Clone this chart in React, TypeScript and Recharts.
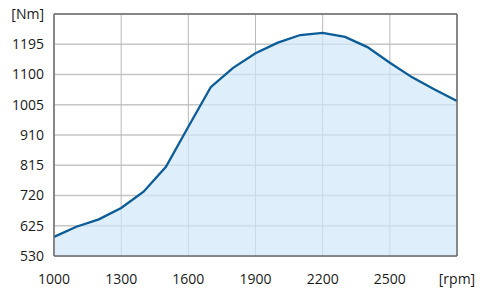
import React from 'react';
import {
  AreaChart,
  Area,
  XAxis,
  YAxis,
  CartesianGrid,
  ReferenceLine,
} from 'recharts';

// rpm values (every 100 rpm)
const rpm = [
  1000, 1100, 1200, 1300, 1400, 1500, 1600, 1700, 1800, 1900,
  2000, 2100, 2200, 2300, 2400, 2500, 2600, 2700, 2800,
];

// torque [Nm]
const torque = [
  590, 622, 645, 681, 732, 810, 936, 1060, 1121, 1167,
  1200, 1224, 1231, 1218, 1186, 1137, 1091, 1053, 1017,
];

const xTicks = [1000, 1300, 1600, 1900, 2200, 2500, 2800];
const yTicks = [530, 625, 720, 815, 910, 1005, 1100, 1195, 1290];

const data = rpm.map((r, i) => ({ rpm: r, torque: torque[i] }));

const colors = {
  line: '#0b5c97',
  fill: '#d0e7f9',
  grid: '#b9b9b9',
  frame: '#6b6b6b',
  text: '#1a1a1a',
};

const tickStyle = { fontSize: 14, fill: colors.text, fontFamily: '"Open Sans", sans-serif' };

export default function App() {
  return (
    <div style={{ position: 'absolute', left: 0, top: 0, width: 492, height: 289, background: '#fff' }}>
      <AreaChart
        width={492}
        height={289}
        data={data}
        margin={{ top: 14, right: 35, left: 0, bottom: 0 }}
      >
        <CartesianGrid horizontal={true} vertical={false} stroke="#c6c6c6" strokeWidth={1.6} />
        <CartesianGrid horizontal={false} vertical={true} stroke={colors.grid} strokeWidth={1} />
        <XAxis
          dataKey="rpm"
          type="number"
          domain={[1000, 2800]}
          ticks={xTicks}
          height={33}
          tickSize={0}
          tickMargin={18}
          tick={tickStyle}
          axisLine={{ stroke: colors.frame, strokeWidth: 1.5 }}
          tickFormatter={(v) => (v === 2800 ? '[rpm]' : String(v))}
        />
        <YAxis
          type="number"
          domain={[530, 1290]}
          ticks={yTicks}
          width={54}
          tickSize={0}
          tickMargin={10}
          tick={tickStyle}
          axisLine={{ stroke: colors.frame, strokeWidth: 1.5 }}
          tickFormatter={(v) => (v === 1290 ? '[Nm]' : String(v))}
        />
        <Area
          type="linear"
          dataKey="torque"
          stroke={colors.line}
          strokeWidth={2.3}
          fill={colors.fill}
          fillOpacity={0.7}
          dot={false}
          activeDot={false}
          isAnimationActive={false}
        />
        <ReferenceLine x={2800} stroke={colors.frame} strokeWidth={1.5} />
        <ReferenceLine y={1290} stroke={colors.frame} strokeWidth={1.5} />
      </AreaChart>
    </div>
  );
}
